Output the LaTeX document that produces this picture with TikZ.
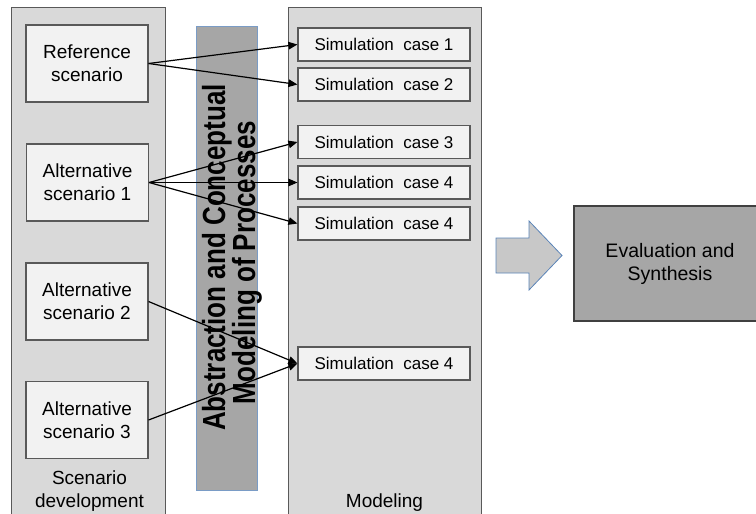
\documentclass[tikz,border=0pt]{standalone}
\usepackage{fontspec}
\setmainfont{Liberation Sans}
\usetikzlibrary{arrows.meta}
\definecolor{panelgray}{HTML}{D9D9D9}
\definecolor{boxgray}{HTML}{F2F2F2}
\definecolor{bargray}{HTML}{A6A6A6}
\definecolor{barblue}{HTML}{7A9CC6}
\definecolor{arrowgray}{HTML}{C8C8C8}
\definecolor{arrowblue}{HTML}{5B84B8}
\definecolor{edgegray}{HTML}{595959}

\begin{document}
\begin{tikzpicture}[
    x=1pt, y=-1pt,
    panel/.style={draw=edgegray,line width=1pt,fill=panelgray,anchor=north west,minimum height=530pt},
    scen/.style={draw=edgegray,line width=1.1pt,fill=boxgray,minimum width=122pt,minimum height=77pt,align=center,inner sep=0pt,font=\fontsize{19}{23}\selectfont},
    sim/.style={draw=edgegray,line width=1.1pt,fill=boxgray,minimum width=172pt,minimum height=33pt,inner sep=0pt,font=\fontsize{17}{20}\selectfont},
    lab/.style={align=center,font=\fontsize{19}{23}\selectfont},
    abstxt/.style={rotate=90,yscale=1.23,anchor=base,inner sep=0pt,font=\bfseries\fontsize{26}{26}\selectfont},
    link/.style={-{Triangle[length=9pt,width=7.5pt]},line width=1.2pt},
  ]
    \useasboundingbox (0,0) rectangle (756,514);

    % columns
    \node[panel,minimum width=154pt] (scn) at (11,7) {};
    \node[panel,minimum width=193pt] (mdl) at (288,7) {};
    \node[draw=barblue,line width=0.8pt,fill=bargray,anchor=north west,minimum width=61pt,minimum height=464pt] (bar) at (196,26) {};
    \node[abstxt] (abs1) at (225,257.5) {Abstraction and Conceptual};
    \node[abstxt] (abs2) at (255,262.5) {Modeling of Processes};

    % scenarios
    \node[scen] (ref)  at (87,63.5)   {Reference\\scenario};
    \node[scen] (alta) at (87.5,182.5) {Alternative\\scenario 1};
    \node[scen] (altb) at (87,301.5)  {Alternative\\scenario 2};
    \node[scen] (altc) at (87,420)    {Alternative\\scenario 3};
    \node[lab]  (scnlab) at (89.5,491.5) {Scenario\\development};

    % simulation cases
    \node[sim] (sc1) at (384,44.5)  {Simulation\ \ case 1};
    \node[sim] (sc2) at (384,84.5)  {Simulation\ \ case 2};
    \node[sim] (sc3) at (384,142)   {Simulation\ \ case 3};
    \node[sim] (sc4) at (384,182.5) {Simulation\ \ case 4};
    \node[sim] (sc5) at (384,223.5) {Simulation\ \ case 4};
    \node[sim] (sc6) at (384,363.5) {Simulation\ \ case 4};
    \node[lab,anchor=base] (mdllab) at (384.5,507) {Modeling};

    \foreach \s/\t in {ref/sc1,ref/sc2,alta/sc3,alta/sc4,alta/sc5,altb/sc6,altc/sc6} {
      \draw[link] (\s.east) -- (\t.west);
    }

    % evaluation
    \draw[draw=arrowblue,line width=0.8pt,fill=arrowgray] (496,238) -- (529,238) -- (529,221) -- (562,255.5)
      -- (529,290) -- (529,273) -- (496,273) -- cycle;
    \node[draw=black!75,line width=1.2pt,fill=bargray,minimum width=192pt,minimum height=115pt,align=center,
      font=\fontsize{19.5}{23}\selectfont] (eval) at (670,263.5) {Evaluation and\\Synthesis};
\end{tikzpicture}
\end{document}
